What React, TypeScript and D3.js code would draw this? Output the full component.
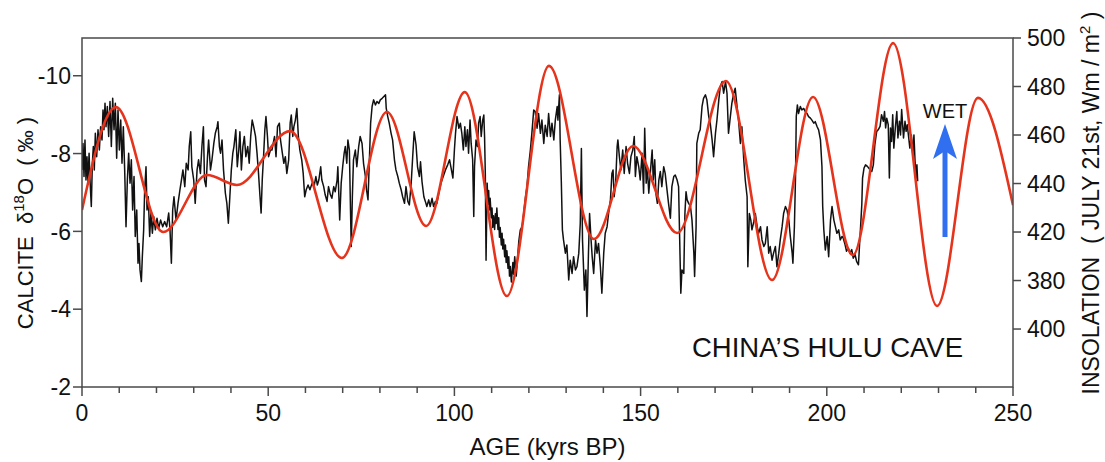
import React from "react";
import * as d3 from "d3";

// Hulu Cave speleothem calcite δ18O record (age in kyr BP, δ18O in ‰)
const calcite: [number, number][] = [
  [0, -7.58], [0.27, -8.26], [0.54, -7.41], [0.8, -8.35], [1.07, -7.32], [1.34, -7.92], [1.6, -7.24], [1.9, -8.01],
  [2.15, -7.32], [2.5, -6.64], [2.78, -7.75], [3.04, -8.18], [3.3, -7.58], [3.58, -8.52], [3.94, -7.92], [4.3, -8.61],
  [4.66, -8.09], [5.0, -8.69], [5.37, -8.35], [5.64, -9.12], [5.9, -8.61], [6.18, -9.29], [6.45, -8.69], [6.8, -9.21],
  [7.16, -8.44], [7.52, -9.34], [7.88, -8.18], [8.24, -9.42], [8.6, -8.61], [8.95, -9.29], [9.31, -7.88], [9.67, -9.12],
  [10.03, -8.09], [10.4, -8.86], [10.74, -7.75], [11.1, -8.69], [11.46, -7.58], [11.82, -6.12], [12.18, -7.32],
  [12.53, -8.01], [12.9, -7.24], [13.25, -7.84], [13.6, -6.55], [13.97, -7.41], [14.3, -5.87], [14.7, -6.55],
  [15.04, -5.18], [15.3, -5.69], [15.58, -5.01], [15.94, -4.71], [16.2, -5.35], [16.56, -6.04], [16.83, -7.07],
  [17.19, -7.66], [17.46, -6.55], [17.8, -6.89], [18.17, -5.87], [18.5, -6.47], [18.9, -5.95], [19.25, -6.38],
  [19.7, -6.04], [20.14, -6.34], [20.6, -6.08], [21.1, -6.29], [21.67, -6.12], [22.2, -6.25], [22.74, -6.12],
  [23.28, -6.47], [23.63, -6.04], [24.0, -5.18], [24.35, -6.55], [24.7, -6.89], [25.25, -6.29], [25.78, -6.72],
  [26.3, -7.07], [26.7, -7.32], [27.1, -7.58], [27.6, -7.15], [28.0, -7.75], [28.5, -7.58], [28.8, -8.18], [29.2, -8.56],
  [29.5, -7.66], [30.0, -7.32], [30.4, -6.72], [30.9, -7.58], [31.3, -7.84], [31.8, -7.49], [32.2, -8.18], [32.6, -8.69],
  [32.9, -7.32], [33.3, -7.15], [33.7, -7.92], [34.0, -8.35], [34.5, -7.58], [34.9, -7.84], [35.4, -8.26], [35.8, -8.52],
  [36.3, -8.69], [36.5, -8.82], [36.9, -8.18], [37.2, -8.01], [37.6, -8.35], [38.0, -7.58], [38.5, -6.98], [38.9, -6.72],
  [39.3, -6.21], [39.7, -6.89], [40.1, -7.58], [40.5, -8.01], [40.8, -8.18], [41.3, -8.61], [41.7, -7.66], [42.1, -8.09],
  [42.4, -8.56], [42.8, -7.58], [43.2, -8.18], [43.6, -8.44], [44.0, -7.92], [44.5, -8.18], [44.9, -7.75], [45.3, -8.44],
  [45.7, -8.86], [46.1, -8.69], [46.6, -8.44], [47.0, -8.01], [47.4, -7.49], [47.8, -6.89], [48.1, -6.47], [48.4, -7.32],
  [48.8, -8.01], [49.1, -8.61], [49.4, -8.95], [49.8, -8.44], [50.1, -7.92], [50.6, -8.09],
  [51.0, -8.09], [51.7, -8.44], [52.1, -7.92], [52.5, -8.69], [53.0, -8.78], [53.3, -8.35], [53.8, -8.01], [54.2, -7.75],
  [54.6, -7.92], [55.0, -7.49], [55.5, -7.84], [55.9, -8.78], [56.2, -8.99], [56.6, -8.44], [56.9, -8.69], [57.3, -8.86],
  [57.7, -9.16], [58.1, -8.44], [58.5, -8.09], [59.0, -7.84], [59.4, -7.49], [59.8, -6.89], [60.2, -7.07], [60.7, -7.19],
  [61.2, -7.07], [61.8, -7.24], [62.3, -7.15], [62.8, -7.41], [63.2, -7.19], [63.6, -7.32], [64.1, -7.66], [64.4, -7.32],
  [64.9, -7.15], [65.3, -6.94], [65.8, -6.77], [66.2, -7.15], [66.7, -6.94], [67.1, -6.85], [67.6, -7.15], [68.0, -7.02],
  [68.5, -7.32], [68.7, -7.66], [69.2, -6.29], [69.6, -7.24], [70.0, -7.66], [70.4, -8.01], [70.7, -8.18], [71.1, -7.75],
  [71.4, -8.35], [71.8, -8.09], [72.1, -6.55], [72.3, -5.61], [72.6, -6.89], [72.9, -7.84], [73.4, -8.09], [73.8, -7.66],
  [74.3, -8.18], [74.7, -8.44], [75.2, -8.26], [75.6, -7.75], [76.1, -7.41], [76.4, -7.07], [76.8, -6.81], [77.2, -7.92],
  [77.5, -8.78], [77.9, -9.21], [78.3, -9.38], [78.8, -9.25], [79.2, -9.34], [79.7, -9.29], [80.1, -9.38], [80.6, -9.42],
  [81.0, -9.46], [81.5, -9.51], [81.7, -9.16], [82.1, -8.95], [82.5, -8.78], [83.0, -8.52], [83.4, -8.35], [83.9, -7.84],
  [84.3, -7.58], [84.8, -7.41], [85.2, -7.24], [85.7, -7.07], [86.1, -6.89], [86.6, -6.72], [87.0, -7.15], [87.5, -6.77],
  [87.9, -6.68], [88.4, -7.24], [88.8, -7.92], [89.2, -8.56], [89.7, -8.22], [90.1, -7.66], [90.6, -7.41], [90.9, -7.79],
  [91.3, -7.28], [91.8, -6.89], [92.2, -6.77], [92.6, -6.64], [93.1, -6.81], [93.5, -6.64], [94.0, -6.85], [94.4, -6.64],
  [94.9, -6.77], [95.3, -6.72], [95.8, -6.98], [96.4, -7.24], [97.0, -7.41], [97.6, -7.58], [98.2, -7.71], [98.7, -7.84],
  [99.2, -7.58], [99.6, -7.37], [100.0, -8.09], [100.3, -8.52], [100.7, -8.95], [101.2, -8.65], [101.6, -8.78],
  [102.0, -8.52], [102.4, -8.09], [102.8, -8.69], [103.1, -8.18], [103.5, -8.61], [103.8, -8.01], [104.2, -8.86],
  [104.5, -8.26], [104.9, -7.84], [105.2, -6.38], [105.4, -7.66], [105.8, -8.35], [106.2, -8.18], [106.5, -8.78],
  [106.9, -8.95], [107.2, -8.44], [107.6, -8.86], [107.9, -8.99], [108.1, -8.44], [108.3, -7.49], [108.5, -5.26],
  [108.8, -7.24], [109.0, -6.7], [109.2, -7.05], [109.4, -6.55], [109.6, -6.85], [109.9, -6.35], [110.1, -6.6],
  [110.3, -6.1], [110.5, -6.4], [110.8, -6.05], [111.0, -6.45], [111.2, -6.2], [111.4, -6.6], [111.7, -6.05],
  [111.9, -6.35], [112.1, -5.85], [112.3, -6.1], [112.6, -5.65], [112.8, -5.95], [113.0, -5.55], [113.2, -5.8],
  [113.5, -5.35], [113.7, -5.65], [113.9, -5.2], [114.1, -5.5], [114.4, -5.05], [114.6, -5.35], [114.8, -4.85],
  [115.0, -5.1], [115.3, -4.7], [115.5, -4.95], [115.7, -5.2], [115.9, -4.9], [116.2, -5.35], [116.4, -5.1],
  [116.6, -4.85], [116.8, -5.1], [117.1, -5.5], [117.3, -5.75], [117.7, -6.04], [118.2, -6.12], [118.6, -6.46],
  [119.1, -6.89], [119.5, -7.15], [119.9, -7.66], [120.4, -8.09], [120.8, -8.52], [121.3, -9.12], [121.7, -9.08],
  [122.2, -8.65], [122.6, -9.03], [123.1, -8.52], [123.5, -8.86], [124.0, -8.26], [124.4, -8.73], [124.9, -8.44],
  [125.3, -9.03], [125.8, -8.44], [126.2, -8.78], [126.7, -8.35], [127.1, -8.86], [127.6, -9.21], [127.8, -8.86],
  [128.2, -9.51], [128.4, -8.35], [128.7, -7.32], [129.0, -6.04], [129.3, -5.78], [129.8, -5.44], [130.2, -5.65],
  [130.7, -4.75], [131.1, -5.26], [131.6, -4.92], [132.0, -5.35], [132.5, -5.01], [132.9, -5.09], [133.4, -5.44],
  [133.8, -6.21], [134.1, -8.13], [134.4, -5.78], [134.9, -4.49], [135.3, -5.01], [135.6, -3.81], [136.0, -5.44],
  [136.3, -6.46], [136.7, -5.78], [137.0, -5.35], [137.4, -4.92], [137.9, -5.78], [138.3, -5.44], [138.7, -5.69],
  [139.2, -5.09], [139.6, -4.41], [140.1, -5.44], [140.5, -5.95], [141.0, -6.12], [141.4, -6.46], [141.9, -6.81],
  [142.3, -7.49], [142.6, -7.58], [142.9, -6.89], [143.3, -7.24], [143.7, -8.18], [143.9, -8.35], [144.3, -7.92],
  [144.7, -7.58], [145.2, -8.09], [145.6, -7.49], [146.1, -8.18], [146.5, -7.75], [147.0, -7.49], [147.4, -7.92],
  [147.9, -8.09], [148.3, -8.44], [148.6, -7.41], [149.0, -7.92], [149.5, -7.66], [149.9, -7.32], [150.4, -8.01],
  [150.8, -6.98], [151.1, -8.65], [151.5, -7.24], [151.8, -7.66], [152.2, -6.98], [152.6, -7.49],
  [153.1, -8.09], [153.4, -7.32], [153.8, -7.84], [154.1, -6.98], [154.5, -6.72], [154.9, -7.32], [155.3, -7.54],
  [155.7, -7.15], [156.2, -7.66], [156.6, -7.49], [157.1, -7.06], [157.5, -6.72], [158.0, -6.34], [158.4, -7.15],
  [158.9, -7.41], [159.3, -7.45], [159.8, -7.32], [160.2, -7.15], [160.5, -5.78], [160.8, -4.41], [161.1, -5.01],
  [161.6, -4.92], [161.9, -6.46], [162.2, -7.02], [162.5, -6.81], [162.9, -6.72], [163.4, -6.64], [163.8, -6.29],
  [164.3, -5.44], [164.5, -4.84], [164.9, -6.12], [165.1, -8.26], [165.6, -8.52], [166.0, -8.61], [166.5, -9.21],
  [166.9, -9.42], [167.4, -9.51], [167.8, -9.38], [168.3, -8.95], [168.7, -8.78], [169.2, -8.35], [169.6, -7.92],
  [170.1, -8.52], [170.5, -8.86], [171.0, -9.38], [171.4, -9.72], [171.9, -9.85], [172.3, -9.55], [172.8, -9.85],
  [173.2, -9.55], [173.6, -8.52], [174.1, -8.95], [174.5, -9.29], [175.0, -9.55], [175.4, -9.68], [175.9, -9.21],
  [176.3, -8.86], [176.8, -8.26], [177.2, -8.69], [177.7, -7.84], [178.1, -7.32], [178.6, -6.89], [178.8, -5.09],
  [179.2, -6.46], [179.6, -6.29], [179.9, -6.04], [180.4, -6.25], [180.8, -6.46], [181.3, -6.12], [181.7, -5.95],
  [182.2, -6.12], [182.6, -5.78], [183.1, -5.61], [183.5, -5.69], [184.0, -6.12], [184.4, -5.44], [184.8, -5.61],
  [185.3, -5.26], [185.7, -5.44], [186.2, -5.61], [186.6, -5.09], [187.1, -5.44], [187.5, -5.78], [188.0, -6.12],
  [188.4, -6.46], [188.9, -6.64], [189.3, -6.55], [189.8, -6.29], [190.2, -5.87], [190.7, -5.44], [190.9, -5.18],
  [191.3, -6.12], [191.6, -7.41], [191.8, -8.95], [192.1, -9.25], [192.4, -9.03], [192.9, -9.21], [193.3, -9.12],
  [193.8, -9.16], [194.2, -9.08], [194.7, -9.03], [195.1, -8.95], [195.6, -8.91], [196.0, -8.86], [196.5, -8.78],
  [196.9, -8.82], [197.4, -8.69], [197.8, -8.61], [198.3, -8.35], [198.7, -7.66], [198.9, -6.64], [199.2, -6.04],
  [199.6, -5.52], [200.1, -5.87], [200.5, -5.35], [201.0, -6.29], [201.4, -6.64], [201.9, -6.29], [202.3, -6.12],
  [202.7, -5.95], [203.2, -6.04], [203.6, -5.78], [204.1, -5.87],
  [204.4, -5.83], [204.9, -5.66], [205.3, -5.49], [205.8, -5.57], [206.2, -5.44], [206.7, -5.53], [207.1, -5.31],
  [207.6, -5.4], [208.0, -5.23], [208.5, -5.14], [208.7, -5.49], [209.1, -6.17], [209.4, -6.69], [209.6, -7.37],
  [210.0, -7.63], [210.4, -7.71], [210.9, -7.67], [211.4, -7.61], [212.1, -7.54], [212.5, -7.71], [212.9, -8.23],
  [213.4, -8.57], [213.8, -8.61], [214.3, -8.7], [214.7, -9.0], [215.2, -8.83], [215.5, -9.08], [215.8, -8.66],
  [216.1, -8.91], [216.5, -8.74], [216.8, -7.37], [217.1, -8.66], [217.4, -8.31], [217.7, -9.0], [218.0, -8.14],
  [218.4, -8.66], [218.8, -9.08], [219.1, -8.4], [219.5, -8.83], [219.8, -8.48], [220.1, -9.13], [220.6, -8.4],
  [221.0, -8.83], [221.3, -8.57], [221.6, -8.74], [222.0, -8.4], [222.3, -8.14], [222.7, -8.48], [223.1, -7.97],
  [223.4, -8.48], [223.7, -7.8], [224.0, -7.37], [224.2, -7.71], [224.4, -7.29],
];

// July 21st insolation (W/m²): turning points of the orbital curve, plus both ends
const insolationAge = [0, 9.1, 21.8, 33.6, 41.6, 55.9, 69.8, 81.9, 92.4, 102.8, 114.1, 125.4, 137.5, 148.0, 159.8, 172.9, 185.3, 196.3, 207.0, 217.8, 229.6, 240.6, 250];
const insolationValue = [429.1, 471.5, 420.0, 443.5, 439.4, 461.6, 409.3, 469.5, 422.5, 477.7, 393.6, 488.5, 417.1, 455.5, 419.6, 482.3, 400.2, 475.7, 410.5, 497.9, 389.5, 475.3, 431.1];

const ageTicks = [0, 10, 20, 30, 40, 50, 60, 70, 80, 90, 100, 110, 120, 130, 140, 150, 160, 170, 180, 190, 200, 210, 220, 230, 240, 250];
const ageLabels = [0, 50, 100, 150, 200, 250];
const d18OTicks = [-10, -8, -6, -4, -2];
const insolationTicks = [500, 480, 460, 440, 420, 400, 380];
const insolationTickLabels = ["500", "480", "460", "440", "420", "380", "400"];

const W = 1105;
const H = 462;
const L = 82, R = 1013, T = 38, B = 387;
const FONT = "'Liberation Sans', Arial, Helvetica, sans-serif";
const FRAME = "#4a4a4a";

export default function App() {
  const x = d3.scaleLinear().domain([0, 250]).range([L, R]);
  const yL = d3.scaleLinear().domain([-2, -10.97]).range([B, T]);
  const yR = d3.scaleLinear().domain([356.1, 500]).range([B, T]);

  const calciteLine = d3
    .line<[number, number]>()
    .x((d) => x(d[0]))
    .y((d) => yL(d[1]));

  const insolation = insolationAge.map((a, i) => [a, insolationValue[i]] as [number, number]);
  const insolationLine = d3
    .line<[number, number]>()
    .curve(d3.curveMonotoneX)
    .x((d) => x(d[0]))
    .y((d) => yR(d[1]));

  const ax = 945;
  return (
    <svg
      width={W}
      height={H}
      viewBox={`0 0 ${W} ${H}`}
      style={{ position: "absolute", left: 0, top: 0, background: "#fff" }}
      fontFamily={FONT}
    >
      <defs>
        <clipPath id="plotArea">
          <rect x={L} y={T} width={R - L} height={B - T} />
        </clipPath>
      </defs>

      {/* data */}
      <g clipPath="url(#plotArea)">
        <path d={calciteLine(calcite) || ""} fill="none" stroke="#111" strokeWidth={1.5} strokeLinejoin="round" />
        <path d={insolationLine(insolation) || ""} fill="none" stroke="#e5331c" strokeWidth={2.6} />
      </g>

      {/* frame */}
      <rect x={L} y={T} width={R - L} height={B - T} fill="none" stroke={FRAME} strokeWidth={1.5} />

      {/* bottom axis */}
      {ageTicks.map((t) => (
        <line key={"xt" + t} x1={x(t)} x2={x(t)} y1={B} y2={B + (t % 50 === 0 ? 9 : 6)} stroke={FRAME} strokeWidth={1.5} />
      ))}
      {ageLabels.map((t) => (
        <text key={"xl" + t} x={x(t)} y={421} textAnchor="middle" fontSize={23} fill="#111">
          {t}
        </text>
      ))}
      <text x={(L + R) / 2} y={455} textAnchor="middle" fontSize={24} fill="#111">
        AGE (kyrs BP)
      </text>

      {/* left axis */}
      {d18OTicks.map((t) => (
        <g key={"yl" + t}>
          <line x1={L - 9} x2={L} y1={yL(t)} y2={yL(t)} stroke={FRAME} strokeWidth={1.5} />
          <text x={L - 11} y={yL(t)} dy="0.36em" textAnchor="end" fontSize={23} fill="#111">
            {t}
          </text>
        </g>
      ))}
      <text transform={`translate(33,223) rotate(-90)`} textAnchor="middle" fontSize={22} fill="#111" style={{ whiteSpace: "pre" }}>
        {"CALCITE  δ"}
        <tspan dy={-9} fontSize={15}>18</tspan>
        <tspan dy={9}>{"O  ( ‰ )"}</tspan>
      </text>

      {/* right axis */}
      {insolationTicks.map((t, i) => (
        <g key={"yr" + t}>
          <line x1={R} x2={R + 8} y1={yR(t)} y2={yR(t)} stroke={FRAME} strokeWidth={1.5} />
          <text x={R + 14} y={yR(t)} dy="0.36em" textAnchor="start" fontSize={23} fill="#111">
            {insolationTickLabels[i]}
          </text>
        </g>
      ))}
      <text transform={`translate(1099,203) rotate(-90)`} textAnchor="middle" fontSize={23} fill="#111" style={{ whiteSpace: "pre" }}>
        {"INSOLATION  ( JULY 21st, Wm / m"}
        <tspan dy={-9} fontSize={15}>2</tspan>
        <tspan dy={9}>{" )"}</tspan>
      </text>

      {/* annotations */}
      <text x={692} y={357} fontSize={27.5} fill="#111">
        CHINA’S HULU CAVE
      </text>
      <text x={ax} y={118} textAnchor="middle" fontSize={20} fill="#111">
        WET
      </text>
      <line x1={ax} x2={ax} y1={237} y2={150} stroke="#2f6ff0" strokeWidth={5} />
      <path d={`M${ax},124 L${ax + 12},159 L${ax},151 L${ax - 12},159 Z`} fill="#2f6ff0" />
    </svg>
  );
}
